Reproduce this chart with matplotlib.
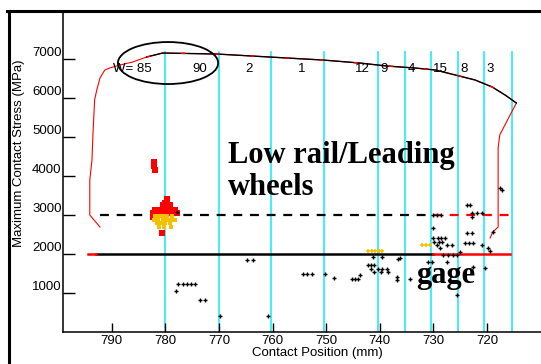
import matplotlib
matplotlib.use("Agg")
import matplotlib.pyplot as plt
from matplotlib.patches import Ellipse
from matplotlib.lines import Line2D

# contact stress profile (position mm, stress MPa)
profile_x = [792.2, 794.1, 794.1, 793.7, 793.5, 793.2, 792.8, 792.2, 791.3, 790.4, 788.5,
             786.1, 783.5, 780.5, 770.4, 760.5, 757.3, 750.6, 743.7, 738.7, 733.4, 729.6,
             725.9, 722.2, 719.0, 716.6, 714.5, 717.6, 717.9, 717.9, 718.9, 719.4]
profile_y = [2692, 3000, 3897, 4400, 5103, 5949, 6205, 6513, 6718, 6769, 6846,
             6923, 7051, 7154, 7128, 7051, 7026, 6974, 6897, 6821, 6769, 6718,
             6590, 6462, 6282, 6077, 5872, 5051, 4718, 2692, 2564, 2410]
top_start, top_end = 12, 26   # part of the profile drawn in black

# wheel boundaries and wheel numbers
boundaries = [780.0, 770.0, 760.3, 750.4, 740.4, 735.2, 730.4, 725.4, 720.5, 715.3]
wheel_ids = ["W= 85", "90", "2", "1", "12", "9", "4", "15", "8", "3"]
wheel_pos = [786.1, 773.6, 764.4, 754.5, 743.3, 739.2, 734.0, 728.6, 724.3, 719.4]

# limit lines
limit_dash = 3000
limit_solid = 2000
limit_left = 792.2
limit_split = 730.0
limit_right = 715.7

# red cluster
red_x = [779.7, 780.1, 780.5, 779.8, 779.2, 782.0, 781.2, 780.4, 779.6, 778.8, 778.2,
         782.3, 781.5, 780.7, 779.9, 779.1, 778.5, 777.9, 782.3, 781.6, 780.7,
         782.2, 782.1, 782.0]
red_y = [3410, 3308, 3256, 3256, 3256, 3128, 3128, 3128, 3128, 3128, 3128,
         3051, 3051, 3051, 3051, 3051, 3051, 3051, 2950, 2950, 2538,
         4360, 4250, 4150]

# orange cluster
orange_x = [782.0, 781.2, 780.4, 779.6, 778.8, 782.1, 781.3, 780.5, 779.7, 778.9, 778.2,
            781.6, 780.8, 780.0, 779.2, 781.2, 780.2, 779.0]
orange_y = [2980, 2980, 2980, 2980, 2980, 2880, 2880, 2880, 2880, 2880, 2880,
            2790, 2790, 2790, 2790, 2700, 2700, 2700]

# orange points near the 2000 line
yellow_x = [742.2, 741.5, 740.8, 740.1, 739.6, 732.1, 731.4, 730.6]
yellow_y = [2077, 2077, 2077, 2077, 2077, 2230, 2230, 2230]

# black points
black_x = [764.8, 763.7, 778.1, 777.6, 776.8, 776.0, 775.2, 774.5, 773.6, 772.6, 769.8, 760.9,
           754.3, 753.6, 752.7, 750.2, 748.6, 745.2, 744.6, 744.1, 743.7,
           742.2, 741.6, 741.0, 741.6, 740.4, 739.5, 738.7, 741.0, 739.8, 738.5,
           741.3, 739.6, 736.6, 736.8, 736.8, 734.4, 736.2,
           731.0, 730.3, 727.5, 728.2, 727.3, 726.4, 725.6, 725.0, 728.8, 729.3, 727.5, 726.6,
           730.0, 729.2, 728.5, 727.8, 729.8, 729.0, 728.3, 730.1, 730.0, 729.3, 728.6,
           723.7, 723.2, 722.8, 721.9, 721.0, 722.8, 723.7, 722.8,
           724.1, 723.3, 722.6, 721.0, 719.8, 719.4, 718.9, 717.6, 717.2,
           725.6, 722.6, 720.4, 777.9]
black_y = [1846, 1846, 1051, 1230, 1230, 1230, 1230, 1230, 820, 820, 410, 410,
           1487, 1487, 1487, 1487, 1385, 1359, 1359, 1359, 1461,
           1718, 1718, 1718, 1615, 1615, 1615, 1615, 1538, 1538, 1538,
           1923, 1923, 1872, 1410, 1333, 1359, 1897,
           1795, 1795, 1795, 1974, 1974, 1974, 1974, 2050, 2154, 2230, 2230, 2230,
           2410, 2410, 2410, 2410, 2308, 2308, 2308, 2667, 3000, 3000, 3000,
           3256, 3256, 3051, 3051, 3051, 2950, 2538, 2538,
           2282, 2282, 2282, 2230, 2154, 2077, 2564, 3692, 3641,
           949, 1667, 1641, 3077]

xticks = [790, 780, 770, 760, 750, 740, 730, 720]
yticks = [1000, 2000, 3000, 4000, 5000, 6000, 7000]

plt.rcParams['font.family'] = ['Liberation Sans', 'DejaVu Sans']

fig = plt.figure(figsize=(5.41, 3.64), dpi=100)
ax = fig.add_axes([63 / 541, 32 / 364, 478 / 541, 319 / 364])

for b in boundaries:
    ax.plot([b, b], [0, 7180], color='#33EEF8', lw=1.3, zorder=1)

# limit lines
ax.plot([limit_left, limit_split], [limit_dash, limit_dash], color='black', lw=1.6,
        dashes=(4, 3.5), zorder=2)
ax.plot([limit_split, limit_right], [limit_dash, limit_dash], color='red', lw=1.6,
        dashes=(4, 3.5), zorder=2)
ax.plot([793.0, limit_split], [limit_solid, limit_solid], color='black', lw=1.8, zorder=2)
ax.plot([limit_split, limit_right], [limit_solid, limit_solid], color='red', lw=1.8, zorder=2)
ax.plot([794.5, 793.0], [limit_solid, limit_solid], color='red', lw=1.8, zorder=2)

# profile
ax.plot(profile_x, profile_y, color='red', lw=0.8, zorder=3)
ax.plot(profile_x[top_start:top_end + 1], profile_y[top_start:top_end + 1],
        color='black', lw=1.0, zorder=3)
ax.plot(profile_x[top_start:top_end + 1], profile_y[top_start:top_end + 1],
        color='red', lw=1.0, dashes=(3, 22), zorder=3)

ax.scatter(red_x, red_y, s=14, marker='s', color='red', lw=0, zorder=4)
ax.scatter(orange_x, orange_y, s=12, marker='s', color='#F5C000', lw=0, zorder=5)
ax.scatter(yellow_x, yellow_y, s=10, marker='+', color='#F5C000', lw=1.1, zorder=5)
ax.scatter(black_x, black_y, s=12, marker='+', color='black', lw=1.0, zorder=6)

for lab, px in zip(wheel_ids, wheel_pos):
    ax.text(px, 6744, lab, ha='center', va='center', fontsize=9.5, zorder=7)

ax.add_patch(Ellipse((779.5, 6897), width=18.7, height=1077, fill=False,
                     color='black', lw=1.3, zorder=7))

serif = ['Liberation Serif', 'DejaVu Serif']
ax.text(768.3, 4333, 'Low rail/Leading', family=serif, fontsize=22, fontweight='bold',
        ha='left', va='baseline', zorder=8)
ax.text(768.3, 3513, 'wheels', family=serif, fontsize=22, fontweight='bold',
        ha='left', va='baseline', zorder=8)
ax.text(733.1, 1256, 'gage', family=serif, fontsize=22, fontweight='bold',
        ha='left', va='baseline', zorder=8)

ax.set_xlim(799.1, 709.9)
ax.set_ylim(0, 8180)
ax.set_xticks(xticks)
ax.set_yticks(yticks)
ax.tick_params(axis='y', direction='in', length=8.5, width=1, pad=1, labelsize=9.5)
ax.tick_params(axis='x', direction='in', length=6.5, width=1, pad=2, labelsize=9.5)
for t in ax.get_yticklabels():
    t.set_va('bottom')
ax.spines['top'].set_visible(False)
ax.spines['right'].set_visible(False)
ax.spines['left'].set_linewidth(1.1)
ax.spines['bottom'].set_linewidth(1.1)

ax.set_ylabel('Maximum Contact Stress (MPa)', fontsize=9.5)
ax.set_xlabel('Contact Position (mm)', fontsize=9.5)
ax.yaxis.set_label_coords(-0.08, 0.561)
ax.xaxis.set_label_coords(0.533, -0.048)

# outer frame
fig.add_artist(Line2D([8.5 / 541, 8.5 / 541], [0, 1 - 11 / 364], color='black', lw=2.2))
fig.add_artist(Line2D([7 / 541, 1], [1 - 11 / 364, 1 - 11 / 364], color='black', lw=2.2))

fig.savefig('out.png', dpi=100)
